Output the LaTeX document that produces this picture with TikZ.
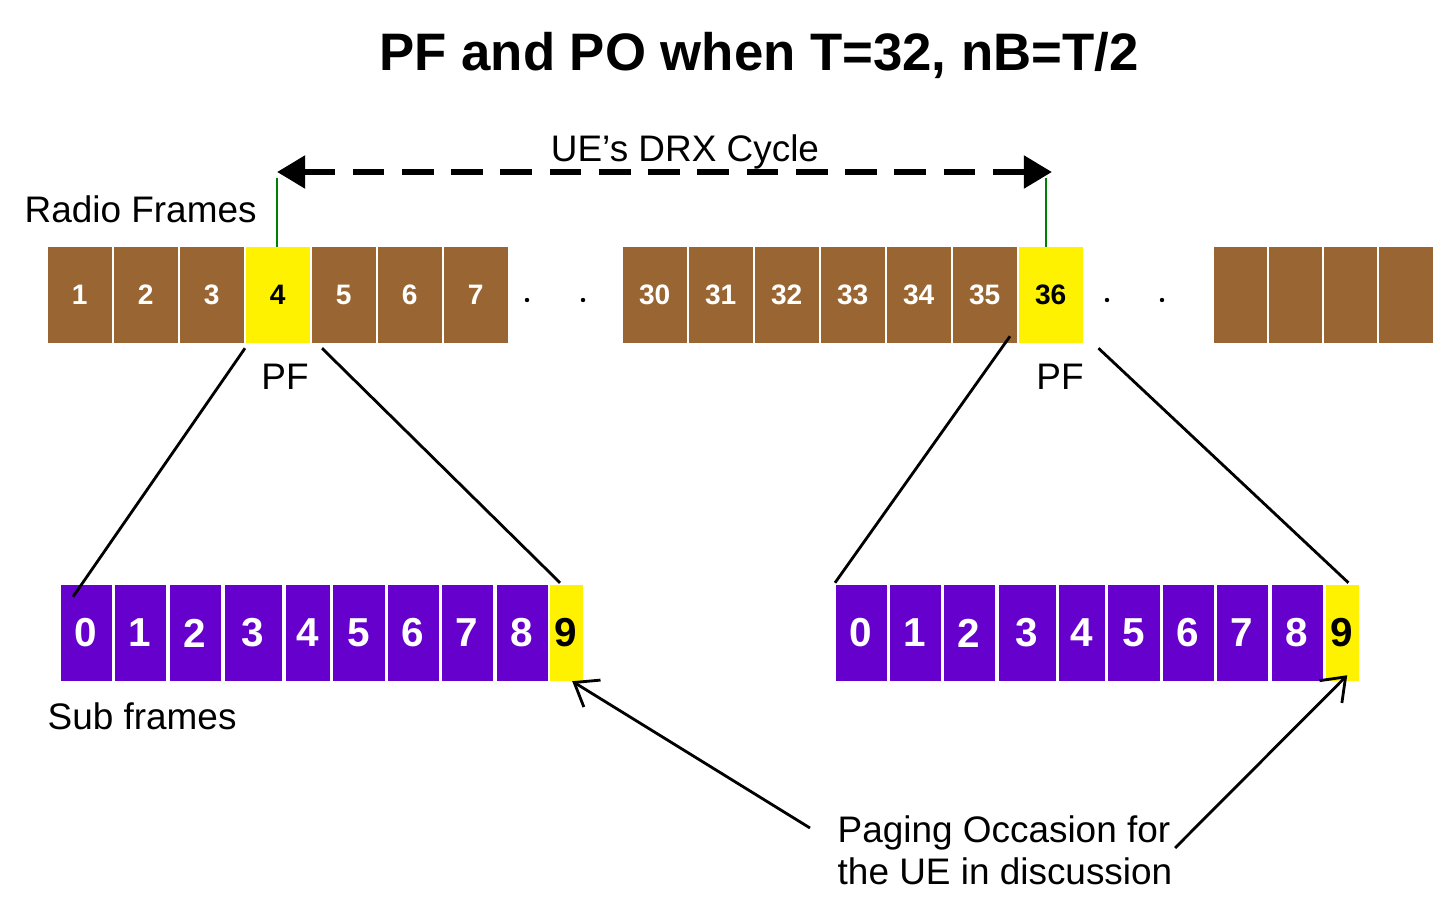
\documentclass[tikz,border=0pt]{standalone}
\usepackage{fontspec}
\setmainfont{Liberation Sans}
\usetikzlibrary{arrows.meta}
\definecolor{rfbrown}{HTML}{996633}
\definecolor{sfpurple}{HTML}{6600CC}
\tikzset{
  box/.style={draw=none, inner sep=0pt, minimum height=0.95cm, anchor=west, text=white, font=\bfseries},
  rf/.style={box, fill=rfbrown, font=\fontsize{8}{9}\selectfont\bfseries},
  sf/.style={box, fill=sfpurple, font=\fontsize{11.5}{13}\selectfont\bfseries},
  hit/.style={fill=yellow, text=black},
  lbl/.style={inner sep=0pt, font=\fontsize{10.5}{12}\selectfont},
}
\begin{document}
\begin{tikzpicture}[x=0.01cm, y=-0.01cm]
  \useasboundingbox (0,0) rectangle (1434,918);
  \node[inner sep=0pt, font=\fontsize{15}{18}\selectfont\bfseries] (title) at (759,55) {PF and PO when T=32, nB=T/2};
  % radio frames
  \foreach \a/\b/\t in {47/111/1, 113/177/2, 179/243/3, 311/375/5, 377/441/6, 443/507/7,
      622/686/30, 688/752/31, 754/818/32, 820/884/33, 886/950/34, 952/1016/35}
    \node[rf, minimum width={(\b-\a)*0.01cm}] (r\t) at (\a,295) {\t};
  \node[rf, hit, minimum width=0.64cm] (r4) at (245,295) {4};
  \node[rf, hit, minimum width=0.64cm] (r36) at (1018,295) {36};
  \foreach \a/\b/\t in {1213/1266/a, 1268/1321/b, 1323/1376/c, 1378/1432/d}
    \node[rf, minimum width={(\b-\a)*0.01cm}] (r\t) at (\a,295) {};
  \foreach \x in {527,583,1107,1162}
    \fill (\x,300) circle (2.2);
  % sub frames
  \foreach \a/\b/\t in {60/111/0, 114/165/1, 169/220/2, 224/281/3, 285/329/4,
      332/384/5, 387/438/6, 441/492/7, 496/547/8}
    \node[sf, minimum width={(\b-\a)*0.01cm}] (sl\t) at (\a,633) {\t};
  \node[sf, hit, minimum width=0.33cm] (sl9) at (549,633) {9};
  \foreach \a/\b/\t in {835/886/0, 889/940/1, 943/994/2, 998/1055/3, 1058/1104/4,
      1107/1159/5, 1162/1213/6, 1216/1267/7, 1271/1322/8}
    \node[sf, minimum width={(\b-\a)*0.01cm}] (sr\t) at (\a,633) {\t};
  \node[sf, hit, minimum width=0.33cm] (sr9) at (1325,633) {9};
  % labels
  \node[lbl, anchor=west] (rflbl) at (24,209) {Radio Frames};
  \node[lbl, anchor=west] (sflbl) at (47,716) {Sub frames};
  \node[lbl] (pf1) at (285,377) {PF};
  \node[lbl] (pf2) at (1060,377) {PF};
  \node[lbl, anchor=west, align=left] (po) at (837,850) {Paging Occasion for\\the UE in discussion};
  \node[lbl] (drx) at (685,152) {UE’s DRX Cycle};
  % DRX cycle
  \coordinate (d1) at (277,172);
  \coordinate (d2) at (1052,172);
  \draw[green!50!black, thick] (277,178) -- (r4.north -| 277,0);
  \draw[green!50!black, thick] (1046,178) -- (r36.north -| 1046,0);
  \draw[line width=1.8pt, dash pattern=on 9pt off 5pt, {Triangle[length=8pt,width=9pt]}-{Triangle[length=8pt,width=9pt]}] (d1) -- (d2);
  % zoom lines
  \draw[thick] ([yshift=-0.05cm]r4.south west) -- ([xshift=0.13cm,yshift=-0.12cm]sl0.north west);
  \draw[thick] ([xshift=0.11cm,yshift=-0.05cm]r5.south west) -- ([xshift=0.11cm,yshift=0.02cm]sl9.north west);
  \draw[thick] ([xshift=-0.08cm,yshift=0.07cm]r36.south west) -- ([yshift=0.02cm]sr0.north west);
  \draw[thick] ([xshift=0.15cm,yshift=-0.05cm]r36.south east) -- ([xshift=-0.11cm,yshift=0.02cm]sr9.north east);
  % paging occasion arrows
  \draw[thick, -{Straight Barb[length=6pt,width=9pt]}] (810,828) -- ([xshift=0.06cm]sl9.south);
  \draw[thick, -{Straight Barb[length=6pt,width=9pt]}] (1175,848) -- ([xshift=0.05cm,yshift=0.06cm]sr9.south);
\end{tikzpicture}
\end{document}
